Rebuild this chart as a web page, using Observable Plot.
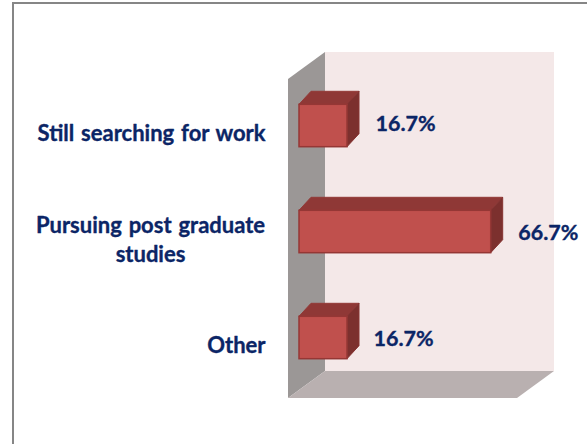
<!DOCTYPE html>
<html>
<head>
<meta charset="utf-8">
<script src="https://cdn.jsdelivr.net/npm/d3@7"></script>
<script src="https://cdn.jsdelivr.net/npm/@observablehq/plot@0.6"></script>
<style>
html,body{margin:0;padding:0;background:#fff;width:587px;height:444px;overflow:hidden}
#chart{position:absolute;left:0;top:0}
#chart text{word-spacing:1.5px;paint-order:stroke}
#frame{position:absolute;left:12px;top:2px;right:0;bottom:0;border-left:2px solid #868686;border-top:2px solid #868686;pointer-events:none}
</style>
</head>
<body>
<div id="chart"></div>
<div id="frame"></div>
<script>
const categories = ["Still searching for work", "Pursuing post graduate\nstudies", "Other"];
const values = [16.7, 66.7, 16.7];
const valueLabels = ["16.7%", "66.7%", "16.7%"];

const rows = categories.map((category, i) => ({category, value: values[i], label: valueLabels[i]}));

// 3-D look
const wallDx = 37, wallDy = 27;
const barDx = 12, barDy = 13;
const barPadding = 0.6;
const labelDx = [28, 27, 26], labelDy = [-1.5, 1, 1];
const navy = "#0b2566";
const font = "Lato, Carlito, 'Open Sans', sans-serif";

function poly(points, fill, stroke) {
  const p = document.createElementNS("http://www.w3.org/2000/svg", "polygon");
  p.setAttribute("points", points.map(q => q.join(",")).join(" "));
  p.setAttribute("fill", fill);
  if (stroke) { p.setAttribute("stroke", stroke); p.setAttribute("stroke-width", 1); }
  return p;
}
function group(children) {
  const g = document.createElementNS("http://www.w3.org/2000/svg", "g");
  children.forEach(c => g.appendChild(c));
  return g;
}

const walls = (index, scales, vals, dims) => {
  const l = dims.marginLeft, r = dims.width - dims.marginRight;
  const t = dims.marginTop, b = dims.height - dims.marginBottom;
  return group([
    poly([[l + wallDx, t - wallDy], [r + wallDx, t - wallDy], [r + wallDx, b - wallDy], [l + wallDx, b - wallDy]], "#f4e8e8"),
    poly([[l, t], [l + wallDx, t - wallDy], [l + wallDx, b - wallDy], [l, b]], "#9b9796"),
    poly([[l, b], [l + wallDx, b - wallDy], [r + wallDx, b - wallDy], [r, b]], "#b9b0b0")
  ]);
};

const barFaces = (index, scales) => {
  const x0 = scales.x(0);
  const bw = (scales.y(categories[1]) - scales.y(categories[0])) * (1 - barPadding);
  return group(rows.flatMap(d => {
    const x1 = scales.x(d.value), y0 = scales.y(d.category), y1 = y0 + bw;
    return [
      poly([[x0, y0], [x0 + barDx, y0 - barDy], [x1 + barDx, y0 - barDy], [x1, y0]], "#8f3836", "#933a38"),
      poly([[x1, y0], [x1 + barDx, y0 - barDy], [x1 + barDx, y1 - barDy], [x1, y1]], "#7c302e", "#863432")
    ];
  }));
};

const single = rows.filter(d => !d.category.includes("\n"));
const multi = rows.filter(d => d.category.includes("\n"));
const textStyle = {fontWeight: 700, fill: navy, stroke: navy, strokeWidth: 0.35};

const plot = Plot.plot({
  width: 587,
  height: 444,
  marginLeft: 288,
  marginRight: 70,
  marginTop: 79,
  marginBottom: 46,
  style: {background: "transparent", fontFamily: font, overflow: "visible"},
  x: {domain: [-3.83, 75.85], axis: null},
  y: {domain: categories, range: [72.5, 390.5], paddingInner: barPadding, paddingOuter: 0.3, round: false, axis: null},
  marks: [
    walls,
    barFaces,
    Plot.barX(rows, {x1: 0, x2: "value", y: "category", fill: "#c0504d", stroke: "#953735", strokeWidth: 1.5}),
    Plot.text(single, {y: "category", text: "category", frameAnchor: "left", textAnchor: "end", dx: -23, dy: 8, fontSize: 22, ...textStyle}),
    Plot.text(multi, {y: "category", text: "category", frameAnchor: "left", textAnchor: "middle", dx: -138, dy: 6, fontSize: 22, lineHeight: 1.32, ...textStyle}),
    ...rows.map((d, i) => Plot.text([d], {x: "value", y: "category", text: "label", textAnchor: "start", dx: labelDx[i], dy: labelDy[i], fontSize: 21.5, ...textStyle}))
  ]
});
document.getElementById("chart").appendChild(plot);
</script>
</body>
</html>
